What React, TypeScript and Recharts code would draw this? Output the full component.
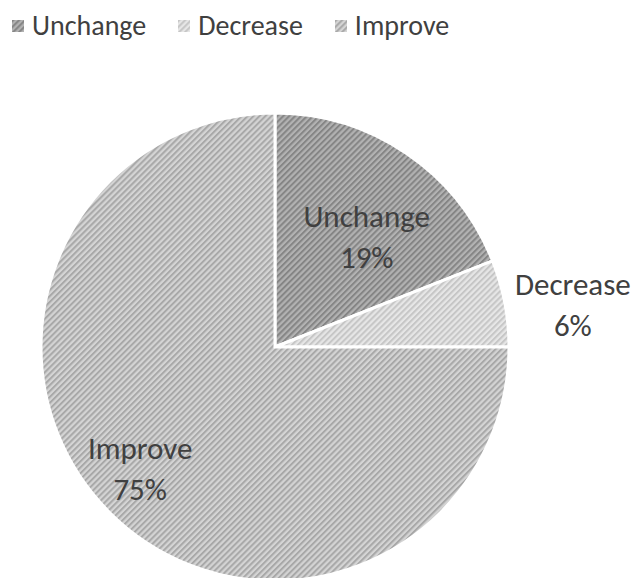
import { PieChart, Pie, Cell } from "recharts";

const categories = ["Unchange", "Decrease", "Improve"];
const shares = [19, 6, 75];
// label placement: distance from the centre (fraction of radius) and a small angle nudge
const labelRadius = [0.615, 1.286, 0.774];
const labelTurn = [-5.4, -2.6, -3.1];

const hatch = [
  { id: "hatch-unchange", bg: "#b2b2b2", line: "#858585" },
  { id: "hatch-decrease", bg: "#e6e6e6", line: "#c6c6c6" },
  { id: "hatch-improve", bg: "#d4d4d4", line: "#a8a8a8" },
];

const data = categories.map((name, i) => ({ name, value: shares[i] }));

const FONT = "Carlito, Lato, 'Open Sans', sans-serif";
const RAD = Math.PI / 180;

function SliceLabel(props: any) {
  const { cx, cy, midAngle, outerRadius, index, name, value } = props;
  const r = outerRadius * labelRadius[index];
  const a = (midAngle + labelTurn[index]) * RAD;
  const x = cx + r * Math.cos(-a);
  const y = cy + r * Math.sin(-a);
  return (
    <text
      x={x}
      y={y}
      textAnchor="middle"
      fill="#404040"
      fontSize={31}
      fontFamily={FONT}
    >
      <tspan x={x} dy={-9}>
        {name}
      </tspan>
      <tspan x={x} dy={41}>
        {value}%
      </tspan>
    </text>
  );
}

function LegendRow() {
  return (
    <div
      style={{
        position: "absolute",
        left: 0,
        top: 8,
        display: "flex",
        alignItems: "center",
        fontFamily: FONT,
      }}
    >
      {categories.map((c, i) => (
        <div
          key={c}
          style={{
            display: "flex",
            alignItems: "center",
            marginLeft: i === 0 ? 12 : 32,
          }}
        >
          <svg width={12} height={12} style={{ marginRight: 8 }}>
            <rect width={12} height={12} fill={`url(#${hatch[i].id})`} />
          </svg>
          <span style={{ fontSize: 28, color: "#404040", lineHeight: "36px" }}>
            {c}
          </span>
        </div>
      ))}
    </div>
  );
}

export default function App() {
  return (
    <div
      style={{
        position: "absolute",
        left: 0,
        top: 0,
        width: 640,
        height: 578,
        background: "#fff",
      }}
    >
      <PieChart width={640} height={578} margin={{ top: 0, right: 0, bottom: 0, left: 0 }}>
        <defs>
          {hatch.map((h) => (
            <pattern
              key={h.id}
              id={h.id}
              patternUnits="userSpaceOnUse"
              width={4.2}
              height={4.2}
              patternTransform="rotate(45)"
            >
              <rect width={4.2} height={4.2} fill={h.bg} />
              <rect width={2} height={4.2} fill={h.line} />
            </pattern>
          ))}
        </defs>
        <Pie
          data={data}
          dataKey="value"
          nameKey="name"
          cx={275}
          cy={347}
          outerRadius={234}
          startAngle={90}
          endAngle={-270}
          stroke="#ffffff"
          strokeWidth={3}
          labelLine={false}
          label={SliceLabel}
          isAnimationActive={false}
        >
          {data.map((d, i) => (
            <Cell key={d.name} fill={`url(#${hatch[i].id})`} />
          ))}
        </Pie>
      </PieChart>
      <LegendRow />
    </div>
  );
}
